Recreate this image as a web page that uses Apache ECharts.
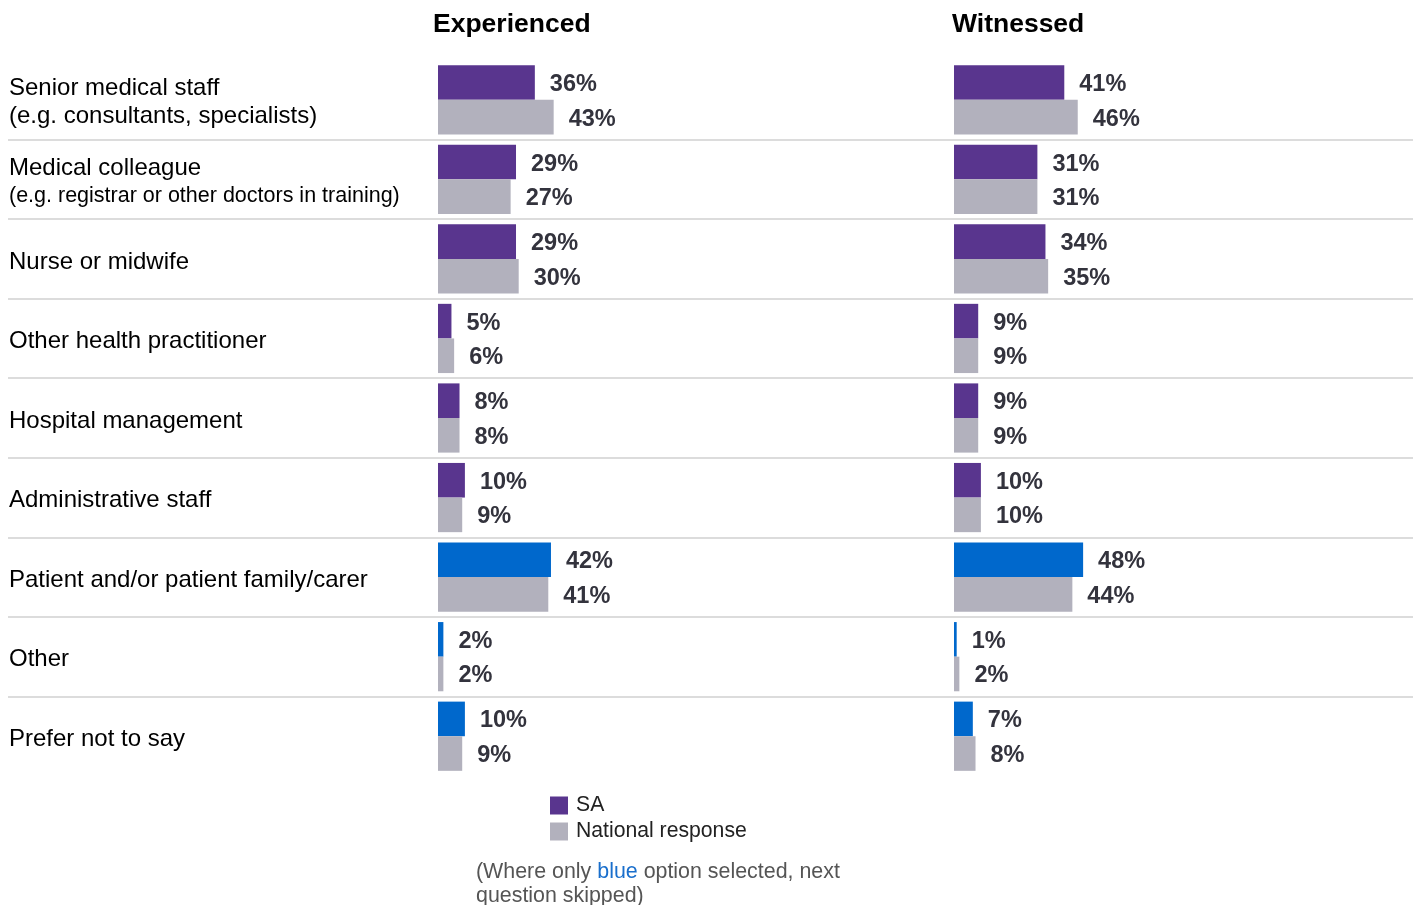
<!DOCTYPE html>
<html><head><meta charset="utf-8">
<script src="https://cdn.jsdelivr.net/npm/echarts@6/dist/echarts.min.js"></script>
<style>html,body{margin:0;padding:0;background:#fff}#c{width:1413px;height:905px}</style>
</head><body><div id="c"></div>
<script>
const categories = ['Senior medical staff','Medical colleague','Nurse or midwife','Other health practitioner','Hospital management','Administrative staff','Patient and/or patient family/carer','Other','Prefer not to say'];
const categoryNotes = ['(e.g. consultants, specialists)','(e.g. registrar or other doctors in training)','','','','','','',''];
const blueCategories = ['Patient and/or patient family/carer','Other','Prefer not to say'];
const panelTitles = ['Experienced','Witnessed'];
const seriesNames = ['SA','National response'];
const experiencedSA = [36,29,29,5,8,10,42,2,10];
const experiencedNational = [43,27,30,6,8,9,41,2,9];
const witnessedSA = [41,31,34,9,9,10,48,1,7];
const witnessedNational = [46,31,35,9,9,10,44,2,8];

(function(){
const PURPLE = '#59358e', BLUE = '#0068cc', GREY = '#b2b1bd', LABEL = '#33333d';
const FONT = '"Liberation Sans", Arial, sans-serif';
const chart = echarts.init(document.getElementById('c'));

function saData(arr){
  return arr.map((v,i)=>({value:v, itemStyle:{color: blueCategories.includes(categories[i]) ? BLUE : PURPLE}}));
}
const label = {show:true, position:'right', distance:15, offset:[0,2], formatter:'{c}%', color:LABEL, fontFamily:FONT, fontWeight:'bold', fontSize:23.5};

function barSeries(name, data, color, idx){
  return {type:'bar', name, xAxisIndex:idx, yAxisIndex:idx, data, barGap:'0%', barCategoryGap:'13%',
    itemStyle:{color}, label, animation:false, silent:true};
}

const gTop = 60, gHeight = 716;
const option = {
  backgroundColor:'#fff',
  animation:false,
  title: [
    {text:panelTitles[0], left:433, top:11, padding:0, textStyle:{fontFamily:FONT, fontWeight:'bold', fontSize:26.5, color:'#000'}},
    {text:panelTitles[1], left:952, top:11, padding:0, textStyle:{fontFamily:FONT, fontWeight:'bold', fontSize:26.5, color:'#000'}}
  ],
  legend: {orient:'vertical', left:550, top:795, padding:0, itemWidth:18, itemHeight:18, itemGap:5, icon:'rect',
    data: seriesNames,
    textStyle:{fontFamily:FONT, fontSize:21.2, color:'#222', padding:[0,0,0,3]}},
  grid: [
    {left:438, width:269, top:gTop, height:gHeight},
    {left:954, width:269, top:gTop, height:gHeight},
    {left:8, right:0, top:gTop, height:gHeight}
  ],
  xAxis: [
    {type:'value', gridIndex:0, min:0, max:100, show:false},
    {type:'value', gridIndex:1, min:0, max:100, show:false},
    {type:'value', gridIndex:2, min:0, max:100, show:false}
  ],
  yAxis: [
    {type:'category', gridIndex:0, data:categories, inverse:true,
      axisLine:{show:false}, axisTick:{show:false}, splitLine:{show:false},
      axisLabel:{align:'left', margin:429, fontFamily:FONT, color:'#000', padding:[6,0,0,0],
        formatter:(v, i)=>{
          const note = categoryNotes[i];
          if(!note) return '{a|'+v+'}';
          return '{a|'+v+'}\n{'+(note.length>35?'s':'n')+'|'+note+'}';
        },
        rich:{
          a:{fontFamily:FONT, fontSize:24, color:'#000', lineHeight:28},
          n:{fontFamily:FONT, fontSize:24, color:'#000', lineHeight:28},
          s:{fontFamily:FONT, fontSize:21.5, color:'#000', lineHeight:27}
        }}},
    {type:'category', gridIndex:1, data:categories, inverse:true, show:false},
    {type:'category', gridIndex:2, data:categories, inverse:true,
      axisLine:{show:false}, axisTick:{show:false}, axisLabel:{show:false},
      splitLine:{show:true, lineStyle:{width:2, color:['rgba(0,0,0,0)','#dcdcdc','#dcdcdc','#dcdcdc','#dcdcdc','#dcdcdc','#dcdcdc','#dcdcdc','#dcdcdc','rgba(0,0,0,0)']}}}
  ],
  series: [
    barSeries(seriesNames[0], saData(experiencedSA), PURPLE, 0),
    barSeries(seriesNames[1], experiencedNational, GREY, 0),
    barSeries(seriesNames[0], saData(witnessedSA), PURPLE, 1),
    barSeries(seriesNames[1], witnessedNational, GREY, 1)
  ],
  graphic: [{
    type:'text', left:476, top:860,
    style:{
      text:'(Where only {b|blue} option selected, next\nquestion skipped)',
      fill:'#555', fontFamily:FONT, fontSize:21.4, lineHeight:24,
      rich:{b:{fill:'#1a6fcc', fontFamily:FONT, fontSize:21.4, lineHeight:24}}
    }
  }]
};
chart.setOption(option);
})();
</script></body></html>
